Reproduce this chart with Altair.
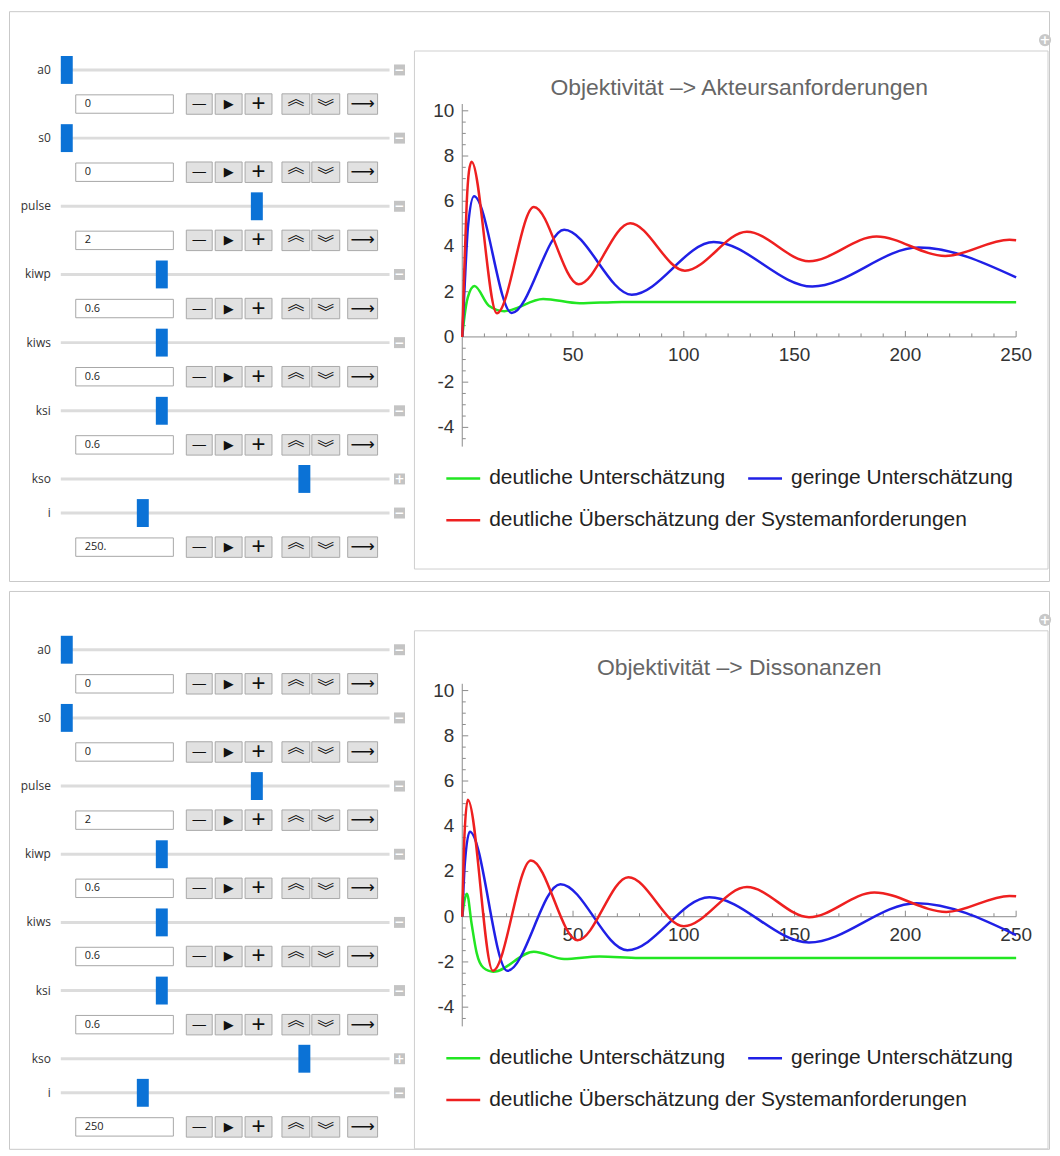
import altair as alt
import pandas as pd

# ---------------- control panel contents ----------------
CTRL_NAMES = ["a0", "s0", "pulse", "kiwp", "kiws", "ksi", "kso", "i"]
CTRL_THUMB = [0.0, 0.0, 0.6, 0.3, 0.3, 0.3, 0.75, 0.24]      # slider positions (fraction)
CTRL_VALUES_1 = ["0", "0", "2", "0.6", "0.6", "0.6", None, "250."]
CTRL_VALUES_2 = ["0", "0", "2", "0.6", "0.6", "0.6", None, "250"]
CTRL_ICON = ["−", "−", "−", "−", "−", "−", "+", "−"]
BUTTON_GLYPHS = ["—", "▶", "+", "︽", "︾", "⟶"]

# ---------------- plot contents ----------------
SERIES = ["deutliche Unterschätzung", "geringe Unterschätzung",
          "deutliche Überschätzung der Systemanforderungen"]
COLORS = ["#22e622", "#2020e6", "#ee2020"]
TITLE_1 = "Objektivität –> Akteursanforderungen"
TITLE_2 = "Objektivität –> Dissonanzen"
X_TICK_LABELS = [50, 100, 150, 200, 250]
Y_TICK_LABELS = [-4, -2, 0, 2, 4, 6, 8, 10]

# panel 1 (Akteursanforderungen)
P1_GREEN_T = [0, 1, 2.5, 5.5, 12, 19, 36.5, 53, 72, 250]
P1_GREEN_V = [0, 0.9, 1.75, 2.25, 1.38, 1.14, 1.68, 1.49, 1.55, 1.53]
P1_BLUE_T = [0, 1.2, 2.6, 5.3, 22.3, 46, 76.5, 113.5, 158, 206, 250]
P1_BLUE_V = [0, 2.5, 4.9, 6.22, 1.06, 4.74, 1.87, 4.2, 2.23, 3.95, 2.63]
P1_RED_T = [0, 1, 2, 3, 4.2, 15.6, 32.3, 52.5, 75.8, 100.5, 128.5, 156.5, 187, 218, 247, 250]
P1_RED_V = [0, 3.2, 5.9, 7.3, 7.75, 1.05, 5.75, 2.33, 5.03, 2.93, 4.65, 3.35, 4.44, 3.58, 4.3, 4.28]

# panel 2 (Dissonanzen)
P2_GREEN_T = [0, 1, 2.1, 4.2, 6.5, 9.5, 14, 32.3, 46, 62, 80, 250]
P2_GREEN_V = [0, 0.7, 1.02, -0.3, -1.6, -2.25, -2.43, -1.55, -1.87, -1.76, -1.83, -1.83]
P2_BLUE_T = [0, 1.2, 3.4, 20.3, 44.3, 74.5, 111.5, 156.5, 205, 250]
P2_BLUE_V = [0, 2.4, 3.76, -2.39, 1.44, -1.48, 0.86, -1.14, 0.6, -0.81]
P2_RED_T = [0, 1, 2.5, 13.8, 31, 52, 75, 100, 128.5, 156.5, 186, 218.5, 247, 250]
P2_RED_V = [0, 3.6, 5.17, -2.39, 2.49, -1.04, 1.75, -0.42, 1.31, -0.02, 1.07, 0.21, 0.92, 0.9]

# ---------------- layout / style (pixels inside a panel) ----------------
PANEL_W = 1044
ROW_RANGE = [59, 538]
TRACK_X = (52, 382)
THUMB_RANGE = [58, 376]
ICON_X = 392
LABEL_X = 42
BOX_X = (67, 165)
BOX_TEXT_X = 76
BTN_EDGES = [(178, 204), (207, 234), (237, 264), (274, 302), (304, 332), (340, 370)]
BTN_FS = [15, 13, 24, 17, 17, 17]
BTN_DY = [0, 0, 0, -4, 4, 0]
BTN_FONT = ["DejaVu Sans", "DejaVu Sans", "Liberation Sans", "Noto Sans CJK JP",
            "Noto Sans CJK JP", "DejaVu Sans"]
FRAME = (407, 1043, 40, 560)
PLUS_XY = (1040, 29)
LEG_SWATCH_X = [439, 742, 439]
LEG_ROW_Y = [469, 469, 511]
LEG_SWATCH_LEN = 34
LEG_GAP = 9
X_RANGE = [455, 1011]
Y0_PX = 327
K = 22.7                      # px per y unit
KX = (X_RANGE[1] - X_RANGE[0]) / 250.0
Y_DOM = [-5, 10.3]
AX = "#8c8c8c"
NUMFONT = "Liberation Sans"
UIFONT = "Open Sans"

row_scale = alt.Scale(domain=[0, 14], range=ROW_RANGE)
xs = alt.Scale(domain=[0, 250], range=X_RANGE, nice=False, zero=False)
ys = alt.Scale(domain=Y_DOM, range=[Y0_PX - Y_DOM[0] * K, Y0_PX - Y_DOM[1] * K], nice=False, zero=False)
cscale = alt.Scale(domain=SERIES, range=COLORS)
one = pd.DataFrame({"k": [0]})


def rowY(field="row:Q"):
    return alt.Y(field, scale=row_scale, axis=None)


def controls(values):
    s_rows, b_rows = [], []
    r = 0
    for name, thumb, val, icon in zip(CTRL_NAMES, CTRL_THUMB, values, CTRL_ICON):
        s_rows.append({"name": name, "thumb": thumb, "row": r, "icon": icon})
        r += 1
        if val is not None:
            b_rows.append({"value": val, "row": r})
            r += 1
    sdf = pd.DataFrame(s_rows)
    bdf = pd.DataFrame(b_rows)
    btn = pd.DataFrame([
        {"row": b["row"], "x1": e[0], "x2": e[1], "xc": (e[0] + e[1]) / 2, "glyph": g, "k": i}
        for b in b_rows for i, (g, e) in enumerate(zip(BUTTON_GLYPHS, BTN_EDGES))
    ])
    track = alt.Chart(sdf).mark_rule(color="#dcdcdc", strokeWidth=3).encode(
        x=alt.value(TRACK_X[0]), x2=alt.value(TRACK_X[1]), y=rowY())
    thumb = alt.Chart(sdf).mark_tick(orient="vertical", size=28, thickness=12,
                                     color="#0b72d6", opacity=1).encode(
        x=alt.X("thumb:Q", scale=alt.Scale(domain=[0, 1], range=THUMB_RANGE), axis=None), y=rowY())
    icon_bg = alt.Chart(sdf).mark_square(size=121, color="#c4c4c4", opacity=1).encode(
        x=alt.value(ICON_X), y=rowY())
    icon_tx = alt.Chart(sdf).mark_text(color="white", fontSize=12, fontWeight="bold",
                                       font="DejaVu Sans", baseline="middle").encode(
        x=alt.value(ICON_X), y=rowY(), text="icon:N")
    label = alt.Chart(sdf).mark_text(align="right", baseline="middle", fontSize=12,
                                     font=UIFONT, color="#333333").encode(
        x=alt.value(LABEL_X), y=rowY(), text="name:N")
    box = alt.Chart(bdf).transform_calculate(
        r1="datum.row - 0.27", r2="datum.row + 0.27").mark_rect(
        fill="white", stroke="#a8a8a8", strokeWidth=1).encode(
        x=alt.value(BOX_X[0]), x2=alt.value(BOX_X[1]), y=rowY("r1:Q"), y2="r2:Q")
    box_tx = alt.Chart(bdf).mark_text(align="left", baseline="middle", fontSize=11,
                                      font=UIFONT, color="#222222").encode(
        x=alt.value(BOX_TEXT_X), y=rowY(), text="value:N")
    btn_r = alt.Chart(btn).transform_calculate(
        r1="datum.row - 0.3", r2="datum.row + 0.3").mark_rect(
        fill="#e1e1e1", stroke="#a9a9a9", strokeWidth=1).encode(
        x=alt.X("x1:Q", scale=None), x2="x2:Q", y=rowY("r1:Q"), y2="r2:Q")
    glyph_layers = []
    for k in range(len(BUTTON_GLYPHS)):
        glyph_layers.append(
            alt.Chart(btn).transform_filter(f"datum.k == {k}").mark_text(
                baseline="middle", font=BTN_FONT[k], color="#111111",
                fontSize=BTN_FS[k], dy=BTN_DY[k]).encode(
                x=alt.X("xc:Q", scale=None), y=rowY(), text="glyph:N"))
    return [track, thumb, icon_bg, icon_tx, label, box, box_tx, btn_r] + glyph_layers


def legend_layers():
    ldf = pd.DataFrame({"series": SERIES, "x1": LEG_SWATCH_X,
                        "x2": [x + LEG_SWATCH_LEN for x in LEG_SWATCH_X],
                        "xt": [x + LEG_SWATCH_LEN + LEG_GAP for x in LEG_SWATCH_X],
                        "y": LEG_ROW_Y})
    sw = alt.Chart(ldf).mark_rule(strokeWidth=2.5).encode(
        x=alt.X("x1:Q", scale=None), x2="x2:Q", y=alt.Y("y:Q", scale=None),
        color=alt.Color("series:N", scale=cscale, legend=None))
    tx = alt.Chart(ldf).mark_text(align="left", baseline="middle", fontSize=21, font=NUMFONT,
                                  color="#222222").encode(
        x=alt.X("xt:Q", scale=None), y=alt.Y("y:Q", scale=None), text="series:N")
    return [sw, tx]


def plot(title, curves):
    X = lambda f: alt.X(f, scale=xs, axis=None)
    Y = lambda f: alt.Y(f, scale=ys, axis=None)
    axis_df = pd.DataFrame({"x1": [0, 0], "x2": [250, 0], "y1": [0, -4.85], "y2": [0, 10.3]})
    axes = alt.Chart(axis_df).mark_rule(color=AX, strokeWidth=1).encode(
        x=X("x1:Q"), x2="x2:Q", y=Y("y1:Q"), y2="y2:Q")
    xt = pd.DataFrame({"t": list(range(10, 251, 10))})
    xt["y1"] = 0.0
    xt["y2"] = [(6.0 if t % 50 == 0 else 3.5) / K for t in xt["t"]]
    xticks = alt.Chart(xt).mark_rule(color=AX).encode(x=X("t:Q"), y=Y("y1:Q"), y2="y2:Q")
    yv = [v / 2.0 for v in range(-9, 21) if v != 0]
    yt = pd.DataFrame({"v": yv})
    yt["x1"] = 0.0
    yt["x2"] = [(6.0 if v % 2 == 0 else 3.5) / KX for v in yv]
    yticks = alt.Chart(yt).mark_rule(color=AX).encode(y=Y("v:Q"), x=X("x1:Q"), x2="x2:Q")
    xl = pd.DataFrame({"t": X_TICK_LABELS, "lab": [str(t) for t in X_TICK_LABELS], "z": 0})
    xlabels = alt.Chart(xl).mark_text(baseline="middle", dy=18, fontSize=19, font=NUMFONT,
                                      color="#333333").encode(x=X("t:Q"), y=Y("z:Q"), text="lab:N")
    yl = pd.DataFrame({"v": Y_TICK_LABELS, "lab": [str(v) for v in Y_TICK_LABELS], "z": 0})
    ylabels = alt.Chart(yl).mark_text(align="right", baseline="middle", dx=-8, fontSize=19,
                                      font=NUMFONT, color="#333333").encode(
        x=X("z:Q"), y=Y("v:Q"), text="lab:N")
    tdf = pd.DataFrame({"t": [125], "lab": [title]})
    ttl = alt.Chart(tdf).mark_text(baseline="middle", fontSize=23, font=NUMFONT,
                                   color="#666666").encode(x=X("t:Q"), y=alt.value(77), text="lab:N")
    lines = []
    for name, (tt, vv) in zip(SERIES, curves):
        df = pd.DataFrame({"t": tt, "v": vv, "series": name})
        lines.append(alt.Chart(df).mark_line(strokeWidth=2.5, interpolate="monotone").encode(
            x=X("t:Q"), y=Y("v:Q"), color=alt.Color("series:N", scale=cscale, legend=None)))
    return alt.layer(axes, xticks, yticks, xlabels, ylabels, ttl, *lines)


def panel(title, values, curves, height):
    frame = alt.Chart(one).mark_rect(fill="white", stroke="#cfcfcf", strokeWidth=1).encode(
        x=alt.value(FRAME[0]), x2=alt.value(FRAME[1]), y=alt.value(FRAME[2]), y2=alt.value(FRAME[3]))
    plus_bg = alt.Chart(one).mark_circle(size=150, color="#c8c8c8", opacity=1).encode(
        x=alt.value(PLUS_XY[0]), y=alt.value(PLUS_XY[1]))
    plus_tx = alt.Chart(one).transform_calculate(s="'+'").mark_text(
        color="white", fontSize=13, fontWeight="bold", font="DejaVu Sans", baseline="middle").encode(
        x=alt.value(PLUS_XY[0]), y=alt.value(PLUS_XY[1]), text="s:N")
    layers = [frame, plus_bg, plus_tx] + controls(values) + legend_layers() + [plot(title, curves)]
    return alt.layer(*layers).resolve_scale(
        x="independent", y="independent", color="independent"
    ).properties(width=PANEL_W, height=height)


p1 = panel(TITLE_1, CTRL_VALUES_1,
           [(P1_GREEN_T, P1_GREEN_V), (P1_BLUE_T, P1_BLUE_V), (P1_RED_T, P1_RED_V)], 572)
p2 = panel(TITLE_2, CTRL_VALUES_2,
           [(P2_GREEN_T, P2_GREEN_V), (P2_BLUE_T, P2_BLUE_V), (P2_RED_T, P2_RED_V)], 560)

chart = alt.vconcat(p1, p2, spacing=8).properties(padding=0).configure_view(
    stroke="#c9c9c9", strokeWidth=1)

chart.save("out.html", embed_options={"renderer": "svg", "actions": False})
